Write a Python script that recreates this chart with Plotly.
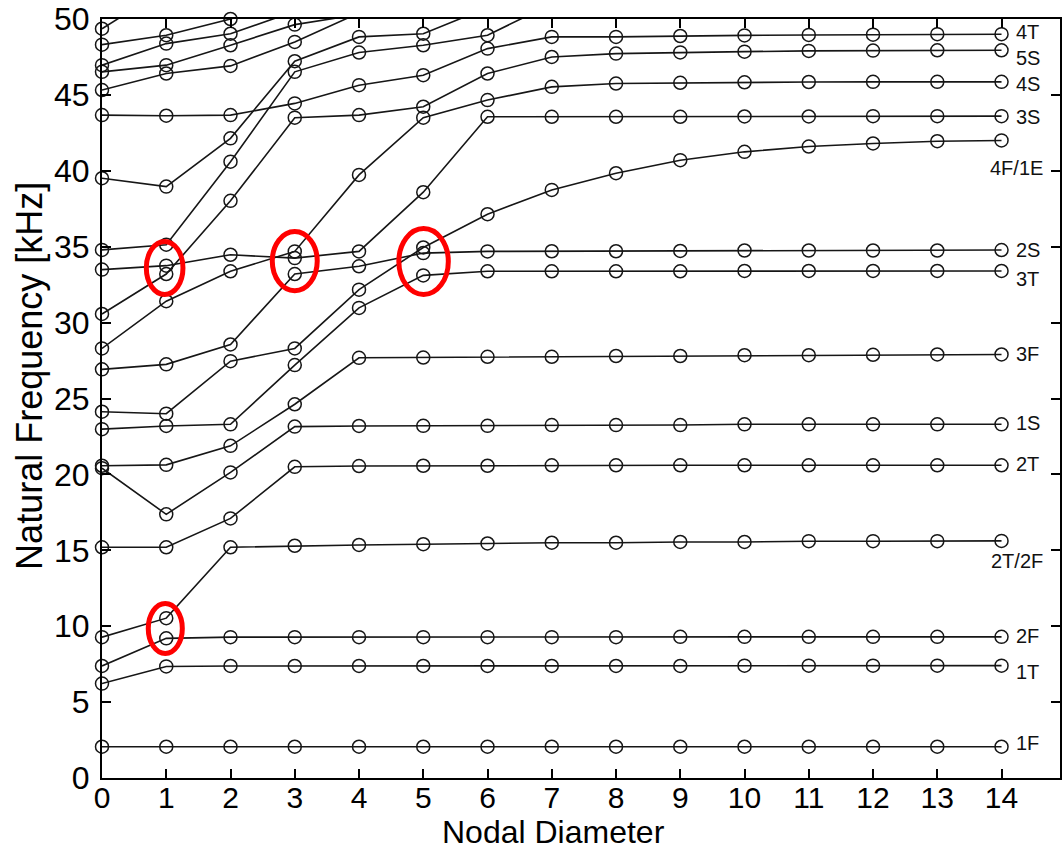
import plotly.graph_objects as go

nodal_diameter = [0, 1, 2, 3, 4, 5, 6, 7, 8, 9, 10, 11, 12, 13, 14]

# mode families (kHz); values above 50 only carry the line to the top edge
f_1F = [2.06, 2.06, 2.06, 2.06, 2.06, 2.06, 2.06, 2.06, 2.06, 2.06, 2.06, 2.06, 2.06, 2.06, 2.06]
f_1T = [6.22, 7.35, 7.38, 7.38, 7.38, 7.38, 7.38, 7.38, 7.38, 7.38, 7.4, 7.4, 7.4, 7.4, 7.4]
f_2F = [7.38, 9.2, 9.28, 9.28, 9.28, 9.28, 9.28, 9.28, 9.28, 9.3, 9.3, 9.3, 9.3, 9.3, 9.3]
f_2T2F = [9.28, 10.53, 15.2, 15.3, 15.35, 15.4, 15.45, 15.5, 15.5, 15.55, 15.55, 15.6, 15.6, 15.6, 15.62]
f_2T = [15.2, 15.2, 17.1, 20.5, 20.55, 20.57, 20.57, 20.6, 20.6, 20.6, 20.6, 20.6, 20.6, 20.6, 20.6]
f_1S = [20.41, 17.37, 20.13, 23.15, 23.19, 23.2, 23.2, 23.25, 23.25, 23.25, 23.3, 23.3, 23.3, 23.3, 23.3]
f_3F = [20.57, 20.63, 21.88, 24.62, 27.68, 27.7, 27.75, 27.75, 27.8, 27.8, 27.85, 27.85, 27.88, 27.9, 27.9]
f_3T = [22.98, 23.19, 23.3, 27.2, 30.97, 33.11, 33.38, 33.38, 33.38, 33.38, 33.4, 33.4, 33.4, 33.4, 33.4]
f_4F1E = [24.13, 24.0, 27.46, 28.3, 32.17, 34.95, 37.14, 38.74, 39.84, 40.7, 41.25, 41.6, 41.8, 41.95, 42.0]
f_2S = [26.92, 27.25, 28.56, 33.2, 33.71, 34.58, 34.69, 34.7, 34.7, 34.72, 34.75, 34.75, 34.75, 34.75, 34.78]
f_3S = [33.49, 33.75, 34.47, 34.25, 34.69, 38.59, 43.56, 43.56, 43.56, 43.56, 43.58, 43.58, 43.6, 43.6, 43.6]
f_4S = [28.3, 31.41, 33.38, 34.69, 39.73, 43.5, 44.66, 45.53, 45.75, 45.8, 45.83, 45.85, 45.86, 45.86, 45.86]
f_5S = [30.57, 33.2, 38.02, 43.5, 43.67, 44.22, 46.41, 47.5, 47.72, 47.8, 47.85, 47.9, 47.92, 47.94, 47.94]
f_4T = [43.67, 43.63, 43.67, 44.44, 45.64, 46.3, 48.05, 48.82, 48.82, 48.88, 48.92, 48.95, 48.97, 49.0, 49.0]
f_o1 = [49.36, 52.0]
f_o2 = [48.31, 48.93, 50.0, 51.5]
f_o3 = [46.96, 48.38, 49.03, 50.5]
f_o4 = [46.52, 46.96, 48.27, 49.63, 50.3]
f_o5 = [45.32, 46.41, 46.91, 48.49, 50.4]
f_o6 = [39.51, 38.96, 42.14, 47.22, 48.82, 49.03, 50.75]
f_o7 = [34.79, 35.13, 40.6, 46.52, 47.79, 48.27, 48.93, 51.0]

families = [f_1F, f_1T, f_2F, f_2T2F, f_2T, f_1S, f_3F, f_3T, f_4F1E, f_2S, f_3S, f_4S,
            f_5S, f_4T, f_o1, f_o2, f_o3, f_o4, f_o5, f_o6, f_o7]

# end labels (text, frequency at which the text sits)
label_text = ["4T", "5S", "4S", "3S", "4F/1E", "2S", "3T", "3F", "1S", "2T", "2T/2F", "2F", "1T", "1F"]
label_freq = [49.12, 47.42, 45.75, 43.56, 40.16, 34.8, 32.84, 27.9, 23.41, 20.71, 14.3, 9.33, 6.98, 2.28]
label_right = ["4F/1E", "2T/2F"]

# highlighted veering regions: (nd_min, nd_max, f_min, f_max)
highlight_regions = [(0.69, 1.26, 31.85, 35.35), (2.65, 3.35, 32.1, 36.0),
                     (4.62, 5.39, 31.85, 36.2), (0.72, 1.25, 8.2, 11.5)]

Y_MAX = 50.0
INK = "#161616"
FONT = "Liberation Sans, Arial, sans-serif"

fig = go.Figure()
for vals in families:
    xs = nodal_diameter[:len(vals)]
    fig.add_trace(go.Scatter(x=xs, y=vals, mode="lines",
                             line=dict(color=INK, width=1.6), hoverinfo="skip",
                             showlegend=False))
for vals in families:
    xs = [x for x, v in zip(nodal_diameter, vals) if v <= Y_MAX + 0.05]
    ys = [v for v in vals if v <= Y_MAX + 0.05]
    fig.add_trace(go.Scatter(x=xs, y=ys, mode="markers", cliponaxis=False,
                             marker=dict(symbol="circle-open", size=13,
                                         color=INK, line=dict(width=1.5, color=INK)),
                             showlegend=False))

for txt, fy in zip(label_text, label_freq):
    right = txt in label_right
    fig.add_annotation(x=14.68 if right else 14.19, y=fy, xref="x", yref="y",
                       text=txt, showarrow=False,
                       xanchor="right" if right else "left", yanchor="middle",
                       font=dict(family=FONT, size=20, color="#111"))

for x0, x1, y0, y1 in highlight_regions:
    fig.add_shape(type="circle", xref="x", yref="y", x0=x0, x1=x1, y0=y0, y1=y1,
                  line=dict(color="#ff0000", width=5))

# axis titles
fig.add_annotation(x=7.03, y=-0.071, xref="x", yref="paper", text="Nodal Diameter",
                   showarrow=False, xanchor="center", yanchor="middle",
                   font=dict(family=FONT, size=32, color="black"))
fig.add_annotation(x=-0.075, y=0.53, xref="paper", yref="paper",
                   text="Natural Frequency [kHz]", textangle=-90,
                   showarrow=False, xanchor="center", yanchor="middle",
                   font=dict(family=FONT, size=36, color="black"))

axis_common = dict(showgrid=False, zeroline=False, showline=True, linecolor="black",
                   linewidth=2, mirror="ticks", ticks="inside", ticklen=9,
                   tickwidth=1.5, tickcolor="black", ticklabeloverflow="allow")

fig.update_layout(
    width=1063, height=854,
    margin=dict(l=102, r=1, t=17, b=76),
    paper_bgcolor="white", plot_bgcolor="white",
    xaxis=dict(range=[0, 14.91], tickmode="array", tickvals=nodal_diameter,
               ticklabelstandoff=-8,
               tickfont=dict(family=FONT, size=30, color="black"), **axis_common),
    yaxis=dict(range=[0, 50], tickmode="linear", tick0=0, dtick=5,
               ticklabelstandoff=4,
               tickfont=dict(family=FONT, size=32, color="black"), **axis_common),
)

fig.write_html("out.html")
